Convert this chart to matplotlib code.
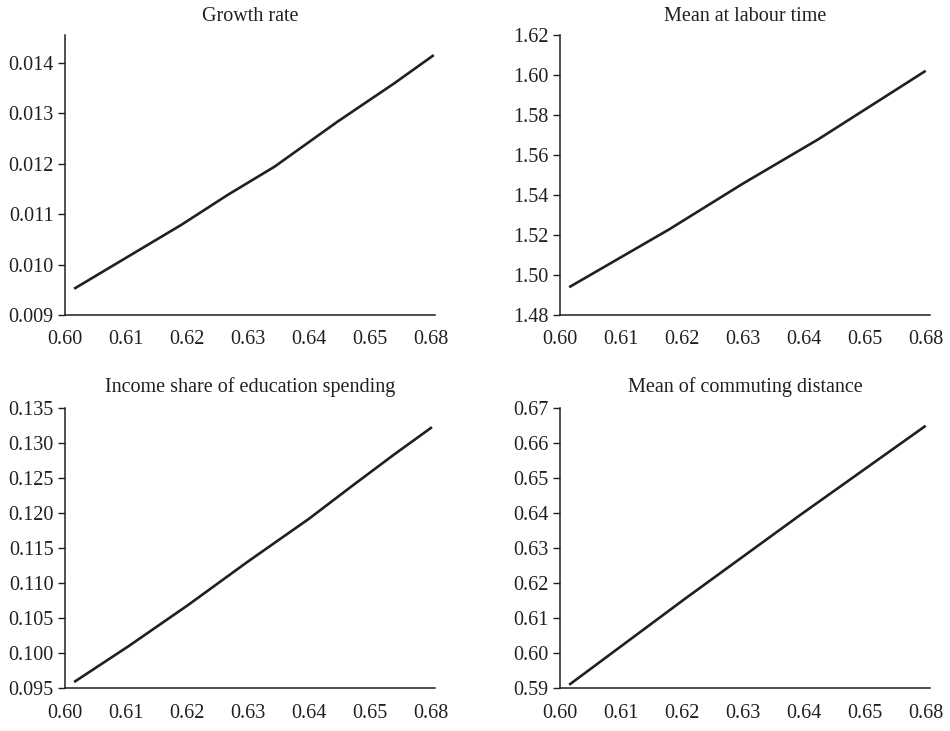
import matplotlib
matplotlib.use('Agg')
import matplotlib.pyplot as plt

# x positions are on an evenly spaced axis; the last tick is labelled "0.68" in the source figure
x_ticks = [0.60, 0.61, 0.62, 0.63, 0.64, 0.65, 0.66]
x_ticklabels = ['0.60', '0.61', '0.62', '0.63', '0.64', '0.65', '0.68']

growth_x = [0.6015, 0.6191, 0.6267, 0.6344, 0.6447, 0.6540, 0.6605]
growth_y = [0.00952, 0.010788, 0.011381, 0.011942, 0.012832, 0.013591, 0.014152]

labour_x = [0.6015, 0.6179, 0.6299, 0.6424, 0.6600]
labour_y = [1.4939, 1.5228, 1.5455, 1.5679, 1.6021]

educ_x = [0.6015, 0.6104, 0.6202, 0.6300, 0.6400, 0.6474, 0.6540, 0.6602]
educ_y = [0.0959, 0.1010, 0.1069, 0.1131, 0.1192, 0.1241, 0.1284, 0.1323]

commute_x = [0.6015, 0.6206, 0.6394, 0.6600]
commute_y = [0.5910, 0.6157, 0.6395, 0.6650]

titles = ['Growth rate', 'Mean at labour time',
          'Income share of education spending', 'Mean of commuting distance']
yticks = [
    [0.009, 0.010, 0.011, 0.012, 0.013, 0.014],
    [1.48, 1.50, 1.52, 1.54, 1.56, 1.58, 1.60, 1.62],
    [0.095, 0.100, 0.105, 0.110, 0.115, 0.120, 0.125, 0.130, 0.135],
    [0.59, 0.60, 0.61, 0.62, 0.63, 0.64, 0.65, 0.66, 0.67],
]
yfmt = ['%.3f', '%.2f', '%.3f', '%.2f']
ylims = [(0.009, 0.01455), (1.48, 1.62), (0.095, 0.135), (0.59, 0.67)]

plt.rcParams['font.family'] = ['Liberation Serif', 'DejaVu Serif']
ink = '#231f20'

fig = plt.figure(figsize=(9.5, 7.31), dpi=100)
rects = [
    [0.0684, 0.5691, 0.3895, 0.3830],
    [0.5895, 0.5691, 0.3894, 0.3830],
    [0.0684, 0.0584, 0.3895, 0.3831],
    [0.5895, 0.0584, 0.3894, 0.3831],
]
data = [(growth_x, growth_y), (labour_x, labour_y), (educ_x, educ_y), (commute_x, commute_y)]

for i, r in enumerate(rects):
    ax = fig.add_axes(r)
    xs, ys = data[i]
    ax.plot(xs, ys, color=ink, lw=1.9, solid_capstyle='butt', solid_joinstyle='round')
    ax.set_xlim(0.6003, 0.6607)
    ax.set_ylim(*ylims[i])
    ax.set_xticks(x_ticks)
    ax.set_xticklabels(x_ticklabels)
    ax.set_yticks(yticks[i])
    ax.set_yticklabels([yfmt[i] % v for v in yticks[i]])
    for s in ['top', 'right']:
        ax.spines[s].set_visible(False)
    for s in ['left', 'bottom']:
        ax.spines[s].set_color(ink)
        ax.spines[s].set_linewidth(1.1)
    ax.tick_params(axis='x', length=0, pad=11, labelsize=14.5, colors=ink)
    ax.tick_params(axis='y', length=4.8, width=1.0, direction='out', pad=3.5,
                   labelsize=14.5, colors=ink)
    ax.set_title(titles[i], fontsize=14.5, color=ink, pad=10 if i < 2 else 12)

fig.savefig('out.png', dpi=100)
